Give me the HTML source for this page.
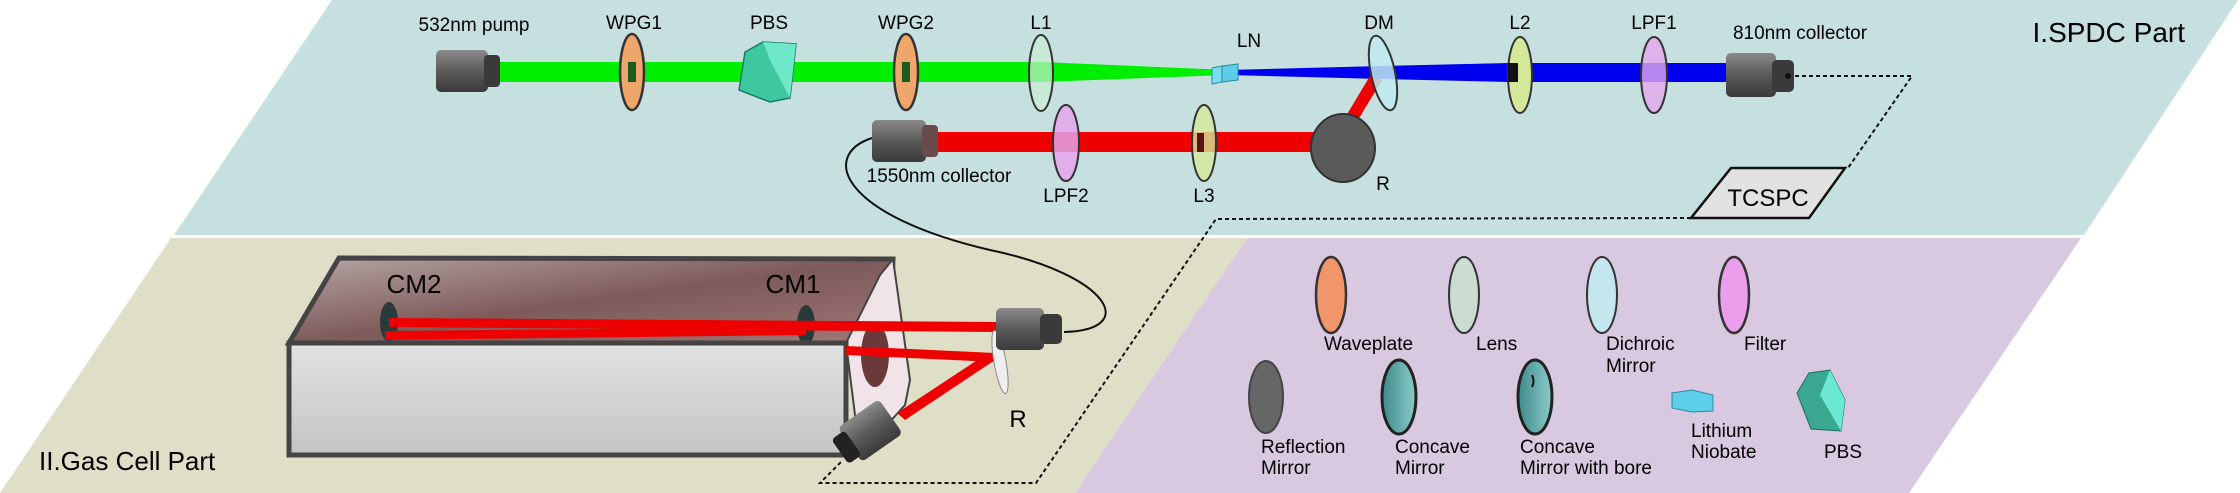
<!DOCTYPE html>
<html><head><meta charset="utf-8"><style>
html,body{margin:0;padding:0;background:#fff;}
svg{display:block;font-family:"Liberation Sans",Arial,sans-serif;}
</style></head><body>
<svg width="2240" height="493" viewBox="0 0 2240 493" xmlns="http://www.w3.org/2000/svg">
<defs>
<linearGradient id="coll" x1="0" y1="0" x2="0" y2="1"><stop offset="0" stop-color="#8a8a8a"/><stop offset="0.5" stop-color="#5a5a5a"/><stop offset="1" stop-color="#3a3a3a"/></linearGradient>
<linearGradient id="inner" x1="0" y1="0" x2="1" y2="1"><stop offset="0" stop-color="#b7a5a5"/><stop offset="0.5" stop-color="#7e5a5a"/><stop offset="1" stop-color="#a07878"/></linearGradient>
<linearGradient id="front" x1="0" y1="0" x2="0" y2="1"><stop offset="0" stop-color="#e2e2e2"/><stop offset="1" stop-color="#c4c4c4"/></linearGradient>
<linearGradient id="cm" x1="0" y1="0" x2="1" y2="0"><stop offset="0" stop-color="#3e8a8a"/><stop offset="1" stop-color="#8ccaca"/></linearGradient>
</defs>
<!-- panels -->
<polygon points="332,0 2238,0 2084,235 174,235" fill="#c6dfdf"/>
<polygon points="171,238 1247,238 1075,493 0,493" fill="#dfdfc8"/>
<polygon points="1247,238 2081,238 1909,493 1075,493" fill="#d8c8e0"/>

<!-- beams top -->
<polygon points="493,62 1041,62 1227,70 1227,75 1041,82 493,82" fill="#00ee00"/>
<polygon points="1227,70 1382,66 1509,63 1727,63 1727,82 1509,82 1382,79 1227,75" fill="#0000ee"/>
<polygon points="1370,76 1382,80 1352,130 1340,126" fill="#ee0000"/>
<rect x="932" y="132" width="400" height="20" fill="#ee0000"/>

<!-- pump collector -->
<rect x="436" y="50" width="52" height="42" rx="5" fill="url(#coll)"/>
<rect x="484" y="55" width="16" height="32" rx="4" fill="#3a3a3a"/>
<!-- WPG1 -->
<ellipse cx="632" cy="72" rx="12" ry="38" fill="#eea66a" stroke="#333" stroke-width="2.5"/>
<rect x="628" y="62" width="8" height="20" fill="#1e5a1e"/>
<!-- PBS -->
<polygon points="745,52 763,42 796,44 790,98 770,102 739,90" fill="#3ec8a0" stroke="#1e7a60" stroke-width="1.5"/>
<polygon points="763,42 796,44 790,98 770,60" fill="#6ee8c8"/>
<!-- WPG2 -->
<ellipse cx="906" cy="72" rx="12" ry="38" fill="#eea66a" stroke="#333" stroke-width="2.5"/>
<rect x="902" y="62" width="8" height="20" fill="#1e5a1e"/>
<!-- L1 -->
<ellipse cx="1041" cy="73" rx="12" ry="38" fill="#c8ecd0" fill-opacity="0.7" stroke="#333" stroke-width="2"/>
<!-- LN -->
<polygon points="1222,66 1238,64 1238,80 1222,82" fill="#5ccde8" stroke="#2a8aa0"/>
<polygon points="1212,68 1222,66 1222,82 1212,84" fill="#7adcf0" stroke="#2a8aa0"/>
<!-- DM -->
<ellipse cx="1383" cy="73" rx="12" ry="38" transform="rotate(-12 1383 73)" fill="#c0eaf0" fill-opacity="0.85" stroke="#333" stroke-width="2"/>
<!-- L2 -->
<ellipse cx="1520" cy="75" rx="12" ry="38" fill="#d4e89a" stroke="#333" stroke-width="2"/>
<rect x="1508" y="63" width="10" height="19" fill="#111"/>
<!-- LPF1 -->
<ellipse cx="1654" cy="75" rx="13" ry="38" fill="#e4a6ec" fill-opacity="0.8" stroke="#333" stroke-width="2"/>
<!-- 810 collector -->
<rect x="1726" y="53" width="50" height="44" rx="5" fill="url(#coll)"/>
<rect x="1772" y="60" width="22" height="32" rx="5" fill="#3a3a3a"/>
<circle cx="1788" cy="76" r="3" fill="#111"/>
<!-- 1550 collector -->
<rect x="872" y="120" width="54" height="42" rx="5" fill="url(#coll)"/>
<rect x="922" y="125" width="16" height="32" rx="4" fill="#6a4a4a"/>
<!-- LPF2 -->
<ellipse cx="1066" cy="143" rx="13" ry="38" fill="#e4a6ec" fill-opacity="0.85" stroke="#333" stroke-width="2"/>
<!-- L3 -->
<ellipse cx="1204" cy="143" rx="12" ry="38" fill="#d4e89a" fill-opacity="0.8" stroke="#333" stroke-width="2"/>
<rect x="1197" y="133" width="7" height="19" fill="#5a1010"/>
<!-- R mirror -->
<ellipse cx="1343" cy="148" rx="32" ry="34" fill="#5a5a5a" stroke="#333" stroke-width="2"/>

<!-- TCSPC -->
<polygon points="1731,168 1845,168 1809,218 1691,218" fill="#e2e2e2" stroke="#111" stroke-width="2.5"/>
<text x="1768" y="206" font-size="24" text-anchor="middle">TCSPC</text>
<!-- dotted lines -->
<polyline points="1795,76 1912,76 1848,168" fill="none" stroke="#111" stroke-width="2" stroke-dasharray="4,3"/>
<polyline points="1691,218 1216,219 1036,483 820,483 843,460" fill="none" stroke="#111" stroke-width="2" stroke-dasharray="4,3"/>
<!-- fiber -->
<path d="M872,138 C820,155 840,215 990,250 C1110,275 1140,330 1064,332" fill="none" stroke="#111" stroke-width="2"/>

<!-- gas cell -->
<polygon points="339,258 893,259 890,345 289,343" fill="url(#inner)" stroke="#444" stroke-width="5"/>
<polygon points="880,275 893,259 910,380 905,405 860,455 846,343" fill="#f0e4e8" stroke="#444" stroke-width="2"/>
<ellipse cx="875" cy="355" rx="14" ry="32" fill="#6a3a3a"/>
<ellipse cx="389" cy="322" rx="9" ry="20" fill="#2a3a3a"/>
<ellipse cx="806" cy="325" rx="9" ry="20" fill="#2a3a3a"/>
<polygon points="389,318 996,322 996,332 389,327" fill="#ee0000"/>
<polygon points="385,331 806,327 806,335 385,340" fill="#ee0000"/>
<rect x="289" y="343" width="557" height="112" fill="url(#front)" stroke="#444" stroke-width="5"/>
<text x="414" y="293" font-size="26" text-anchor="middle">CM2</text>
<text x="793" y="293" font-size="26" text-anchor="middle">CM1</text>
<polygon points="846,346 995,353 995,362 846,355" fill="#ee0000"/>
<polygon points="985,355 995,360 905,420 897,413" fill="#ee0000"/>
<ellipse cx="1000" cy="362" rx="6" ry="32" transform="rotate(-10 1000 362)" fill="#eeeeee" stroke="#888"/>
<rect x="996" y="308" width="48" height="42" rx="5" fill="url(#coll)"/>
<rect x="1040" y="314" width="22" height="30" rx="5" fill="#3a3a3a"/>
<g transform="rotate(-35 870 432)"><rect x="846" y="410" width="50" height="42" rx="5" fill="url(#coll)"/><rect x="834" y="416" width="16" height="30" rx="4" fill="#222"/></g>
<text x="1018" y="427" font-size="24" text-anchor="middle">R</text>

<!-- labels top -->
<g font-size="19" text-anchor="middle">
<text x="474" y="31">532nm pump</text>
<text x="634" y="29">WPG1</text>
<text x="769" y="29">PBS</text>
<text x="906" y="29">WPG2</text>
<text x="1041" y="29">L1</text>
<text x="1249" y="47">LN</text>
<text x="1379" y="29">DM</text>
<text x="1520" y="29">L2</text>
<text x="1654" y="29">LPF1</text>
<text x="1800" y="39">810nm collector</text>
<text x="939" y="182">1550nm collector</text>
<text x="1066" y="202">LPF2</text>
<text x="1204" y="202">L3</text>
<text x="1383" y="190">R</text>
</g>
<text x="2185" y="42" font-size="28" text-anchor="end">I.SPDC Part</text>
<text x="39" y="470" font-size="26">II.Gas Cell Part</text>

<!-- legend -->
<ellipse cx="1331" cy="295" rx="15" ry="38" fill="#f0966a" stroke="#333" stroke-width="2.5"/>
<ellipse cx="1464" cy="295" rx="15" ry="38" fill="#cadccf" stroke="#333" stroke-width="2"/>
<ellipse cx="1602" cy="295" rx="15" ry="38" fill="#c4e6ee" stroke="#333" stroke-width="2"/>
<ellipse cx="1734" cy="295" rx="15" ry="38" fill="#ea9eec" stroke="#333" stroke-width="2.5"/>
<ellipse cx="1266" cy="397" rx="17" ry="36" fill="#666" stroke="#444" stroke-width="2"/>
<ellipse cx="1399" cy="397" rx="17" ry="37" fill="url(#cm)" stroke="#222" stroke-width="3"/>
<ellipse cx="1535" cy="397" rx="17" ry="37" fill="url(#cm)" stroke="#222" stroke-width="3"/>
<path d="M1532,375 q3,6 0,12" stroke="#111" stroke-width="2" fill="none"/>
<polygon points="1672,393 1692,390 1713,395 1713,411 1692,412 1672,408" fill="#5cd0ea" stroke="#2a8aa0"/>
<polygon points="1809,373 1830,370 1845,400 1841,431 1811,429 1797,393" fill="#3aa890" stroke="#1e6a5a"/>
<polygon points="1830,370 1845,400 1841,431 1820,395" fill="#6ae8d4"/>
<g font-size="19">
<text x="1324" y="350">Waveplate</text>
<text x="1476" y="350">Lens</text>
<text x="1606" y="350">Dichroic</text>
<text x="1606" y="372">Mirror</text>
<text x="1744" y="350">Filter</text>
<text x="1261" y="453">Reflection</text>
<text x="1261" y="474">Mirror</text>
<text x="1395" y="453">Concave</text>
<text x="1395" y="474">Mirror</text>
<text x="1520" y="453">Concave</text>
<text x="1520" y="474">Mirror with bore</text>
<text x="1691" y="437">Lithium</text>
<text x="1691" y="458">Niobate</text>
<text x="1824" y="458">PBS</text>
</g>
</svg>
</body></html>
